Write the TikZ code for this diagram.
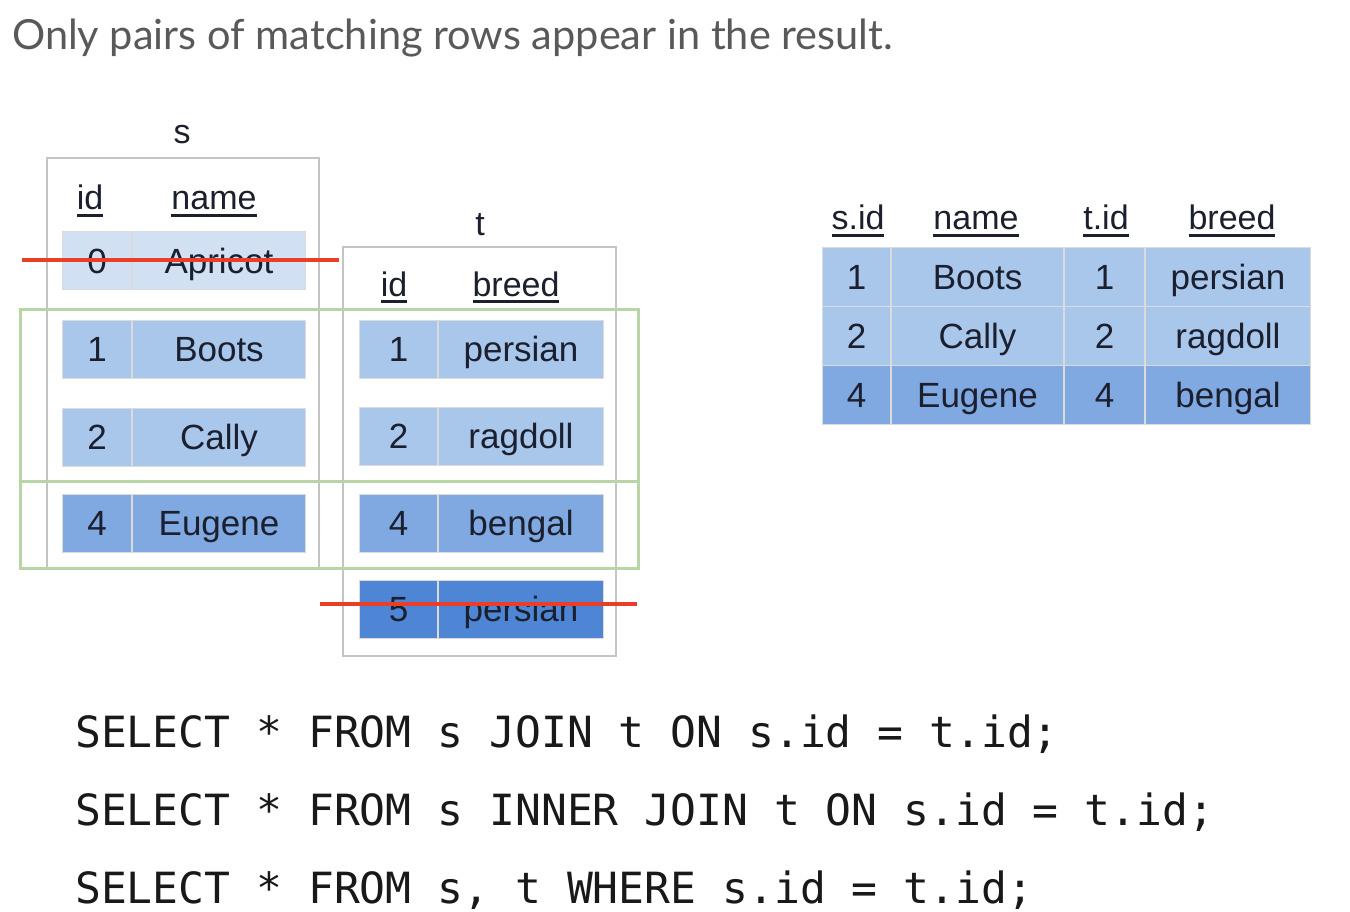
\documentclass[tikz,border=0pt]{standalone}
\usepackage{fontspec}
\setmainfont{Liberation Sans}
\setmonofont{DejaVu Sans Mono}
\newfontfamily\titlefont{Lato}
\usetikzlibrary{positioning}
\definecolor{rowpale}{HTML}{D2E0F3}
\definecolor{rowlight}{HTML}{A9C6EB}
\definecolor{rowmid}{HTML}{7FA9E0}
\definecolor{rowdark}{HTML}{4E86D5}
\definecolor{boxgray}{HTML}{C4C4C4}
\definecolor{matchgreen}{HTML}{B8D5A6}
\definecolor{strikered}{HTML}{EA3F26}
\definecolor{ink}{HTML}{1B1F2E}
\newcommand{\colhead}[1]{\sbox0{#1}\rlap{\rule[-0.2em]{\wd0}{0.07em}}\usebox0}
\tikzset{cell/.style={draw=white!72!gray, line width=1pt, minimum height=58pt, inner sep=0pt, text height=28.5pt, text depth=3.5pt, font=\fontsize{35}{40}\selectfont, text=ink}}
\tikzset{hdr/.style={font=\fontsize{34}{40}\selectfont, text=ink, inner sep=0pt, anchor=base}}
\tikzset{tblbox/.style={draw=boxgray, line width=2.5pt}}
\tikzset{match/.style={draw=matchgreen, line width=3pt}}
\tikzset{strikeout/.style={draw=strikered, line width=4pt}}
\tikzset{code/.style={font=\ttfamily\fontsize{43}{50}\selectfont, text=black!90, inner sep=0pt, anchor=base west}}

\begin{document}
\begin{tikzpicture}[x=1pt, y=-1pt]
\useasboundingbox (0,0) rectangle (1350,912);
\node[font=\titlefont\fontsize{41.5}{48}\selectfont, text=black!65, inner sep=0pt, anchor=base west] (title) at (12,50) {Only pairs of matching rows appear in the result.};

% table s
\draw[tblbox] (47,158) rectangle (319,568);
\node[hdr, anchor=center] (slabel) at (182,135) {s};
\node[hdr] (sidh) at (90,210) {\colhead{id}};
\node[hdr] (snameh) at (214,210) {\colhead{name}};
\node[cell, fill=rowpale, minimum width=69pt, anchor=west] (s0id) at (62,261) {0};
\node[cell, fill=rowpale, minimum width=173pt, right=0pt of s0id] (s0name) {Apricot};
\node[cell, fill=rowlight, minimum width=69pt, anchor=west] (s1id) at (62,349) {1};
\node[cell, fill=rowlight, minimum width=173pt, right=0pt of s1id] (s1name) {Boots};
\node[cell, fill=rowlight, minimum width=69pt, anchor=west] (s2id) at (62,437) {2};
\node[cell, fill=rowlight, minimum width=173pt, right=0pt of s2id] (s2name) {Cally};
\node[cell, fill=rowmid, minimum width=69pt, anchor=west] (s4id) at (62,523) {4};
\node[cell, fill=rowmid, minimum width=173pt, right=0pt of s4id] (s4name) {Eugene};

% table t
\draw[tblbox] (343,247) rectangle (616,656);
\node[hdr, anchor=center] (tlabel) at (480,225) {t};
\node[hdr] (tidh) at (394,296) {\colhead{id}};
\node[hdr] (tbreedh) at (516,296) {\colhead{breed}};
\node[cell, fill=rowlight, minimum width=78pt, anchor=west] (t1id) at (359,349) {1};
\node[cell, fill=rowlight, minimum width=165pt, right=0pt of t1id] (t1breed) {persian};
\node[cell, fill=rowlight, minimum width=78pt, anchor=west] (t2id) at (359,436) {2};
\node[cell, fill=rowlight, minimum width=165pt, right=0pt of t2id] (t2breed) {ragdoll};
\node[cell, fill=rowmid, minimum width=78pt, anchor=west] (t4id) at (359,523) {4};
\node[cell, fill=rowmid, minimum width=165pt, right=0pt of t4id] (t4breed) {bengal};
\node[cell, fill=rowdark, minimum width=78pt, anchor=west] (t5id) at (359,609) {5};
\node[cell, fill=rowdark, minimum width=165pt, right=0pt of t5id] (t5breed) {persian};

% matching pairs
\draw[match] (20,309) rectangle (638,481);
\draw[match] (20,481) rectangle (638,568);

% rows without a partner
\coordinate (s0from) at (22,260);
\coordinate (s0to) at (339,260);
\draw[strikeout] (s0from) -- (s0to);
\coordinate (t5from) at (320,604);
\coordinate (t5to) at (637,604);
\draw[strikeout] (t5from) -- (t5to);

% result
\node[hdr] (rsidh) at (858,230) {\colhead{s.id}};
\node[hdr] (rnameh) at (976,230) {\colhead{name}};
\node[hdr] (rtidh) at (1106,230) {\colhead{t.id}};
\node[hdr] (rbreedh) at (1232,230) {\colhead{breed}};
\node[cell, fill=rowlight, minimum width=68pt, minimum height=59pt, anchor=west] (r1sid) at (822,277) {1};
\node[cell, fill=rowlight, minimum width=172pt, minimum height=59pt, right=0pt of r1sid] (r1name) {Boots};
\node[cell, fill=rowlight, minimum width=80pt, minimum height=59pt, right=0pt of r1name] (r1tid) {1};
\node[cell, fill=rowlight, minimum width=165pt, minimum height=59pt, right=0pt of r1tid] (r1breed) {persian};
\node[cell, fill=rowlight, minimum width=68pt, minimum height=59pt, anchor=west] (r2sid) at (822,336) {2};
\node[cell, fill=rowlight, minimum width=172pt, minimum height=59pt, right=0pt of r2sid] (r2name) {Cally};
\node[cell, fill=rowlight, minimum width=80pt, minimum height=59pt, right=0pt of r2name] (r2tid) {2};
\node[cell, fill=rowlight, minimum width=165pt, minimum height=59pt, right=0pt of r2tid] (r2breed) {ragdoll};
\node[cell, fill=rowmid, minimum width=68pt, minimum height=59pt, anchor=west] (r4sid) at (822,395) {4};
\node[cell, fill=rowmid, minimum width=172pt, minimum height=59pt, right=0pt of r4sid] (r4name) {Eugene};
\node[cell, fill=rowmid, minimum width=80pt, minimum height=59pt, right=0pt of r4name] (r4tid) {4};
\node[cell, fill=rowmid, minimum width=165pt, minimum height=59pt, right=0pt of r4tid] (r4breed) {bengal};

% queries
\node[code] (q1) at (75,747) {SELECT * FROM s JOIN t ON s.id = t.id;};
\node[code] (q2) at (75,825) {SELECT * FROM s INNER JOIN t ON s.id = t.id;};
\node[code] (q3) at (75,903) {SELECT * FROM s, t WHERE s.id = t.id;};
\end{tikzpicture}
\end{document}
